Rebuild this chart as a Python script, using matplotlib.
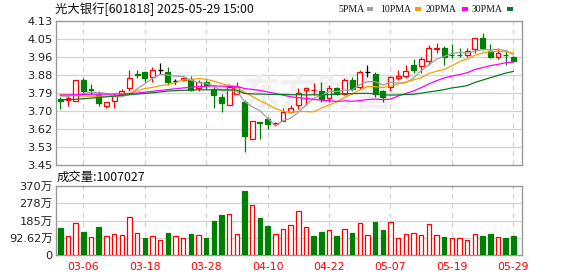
import matplotlib
matplotlib.use("Agg")
import matplotlib.pyplot as plt
from matplotlib.patches import Rectangle
import numpy as np

# ---------------- data ----------------
dates = ['03-03','03-04','03-05','03-06','03-07','03-10','03-11','03-12','03-13','03-14',
         '03-17','03-18','03-19','03-20','03-21','03-24','03-25','03-26','03-27','03-28',
         '03-31','04-01','04-02','04-03','04-07','04-08','04-09','04-10','04-11','04-14',
         '04-15','04-16','04-17','04-18','04-21','04-22','04-23','04-24','04-25','04-28',
         '04-29','04-30','05-06','05-07','05-08','05-09','05-12','05-13','05-14','05-15',
         '05-16','05-19','05-20','05-21','05-22','05-23','05-26','05-27','05-28','05-29']

opens = [3.762, 3.755, 3.751, 3.850, 3.811, 3.779, 3.730, 3.751, 3.787, 3.812,
         3.881, 3.889, 3.864, 3.899, 3.889, 3.845, 3.851, 3.855, 3.814, 3.842,
         3.809, 3.770, 3.732, 3.785, 3.746, 3.571, 3.652, 3.666, 3.644, 3.659,
         3.702, 3.732, 3.803, 3.803, 3.799, 3.765, 3.815, 3.785, 3.851, 3.817,
         3.888, 3.880, 3.799, 3.820, 3.859, 3.872, 3.922, 3.918, 3.943, 3.996,
         4.001, 3.971, 3.970, 3.969, 3.996, 4.048, 3.990, 3.962, 3.971, 3.958]
highs = [3.770, 3.774, 3.850, 3.862, 3.833, 3.798, 3.749, 3.788, 3.807, 3.899,
         3.899, 3.891, 3.913, 3.932, 3.913, 3.858, 3.866, 3.870, 3.851, 3.851,
         3.820, 3.785, 3.831, 3.844, 3.757, 3.656, 3.655, 3.678, 3.655, 3.718,
         3.732, 3.812, 3.820, 3.839, 3.844, 3.828, 3.820, 3.859, 3.867, 3.899,
         3.924, 3.891, 3.804, 3.870, 3.899, 3.922, 3.949, 3.962, 4.017, 4.028,
         4.012, 4.021, 4.001, 4.001, 4.048, 4.075, 4.021, 4.001, 3.993, 3.965]
lows = [3.713, 3.730, 3.751, 3.792, 3.785, 3.730, 3.721, 3.721, 3.785, 3.801,
        3.862, 3.844, 3.844, 3.880, 3.826, 3.833, 3.848, 3.799, 3.799, 3.811,
        3.721, 3.702, 3.732, 3.785, 3.510, 3.571, 3.571, 3.620, 3.634, 3.659,
        3.694, 3.713, 3.733, 3.781, 3.749, 3.749, 3.781, 3.781, 3.801, 3.807,
        3.867, 3.773, 3.749, 3.801, 3.851, 3.859, 3.883, 3.883, 3.922, 3.977,
        3.922, 3.954, 3.958, 3.962, 3.977, 3.993, 3.954, 3.949, 3.922, 3.938]
closes = [3.751, 3.766, 3.850, 3.801, 3.803, 3.741, 3.746, 3.774, 3.798, 3.859,
          3.873, 3.862, 3.897, 3.899, 3.842, 3.845, 3.861, 3.804, 3.840, 3.829,
          3.782, 3.741, 3.818, 3.820, 3.589, 3.656, 3.648, 3.642, 3.647, 3.699,
          3.718, 3.788, 3.815, 3.806, 3.762, 3.815, 3.785, 3.851, 3.807, 3.888,
          3.888, 3.785, 3.773, 3.867, 3.870, 3.896, 3.899, 3.949, 4.001, 4.004,
          3.962, 3.968, 3.968, 3.990, 4.048, 4.001, 3.962, 3.977, 3.968, 3.943]
prev_close = 3.760  # close before the first shown day

ma5 = [3.776, 3.774, 3.781, 3.787, 3.794, 3.792, 3.788, 3.773, 3.772, 3.784,
       3.810, 3.834, 3.858, 3.878, 3.875, 3.869, 3.869, 3.850, 3.839, 3.836,
       3.823, 3.800, 3.802, 3.798, 3.750, 3.725, 3.706, 3.671, 3.636, 3.658,
       3.671, 3.699, 3.733, 3.765, 3.778, 3.797, 3.797, 3.804, 3.804, 3.829,
       3.844, 3.844, 3.828, 3.840, 3.837, 3.838, 3.861, 3.896, 3.923, 3.950,
       3.963, 3.977, 3.981, 3.978, 3.987, 3.995, 3.994, 3.996, 3.991, 3.970]
ma10 = [3.782, 3.780, 3.778, 3.776, 3.775, 3.775, 3.776, 3.777, 3.780, 3.789,
        3.801, 3.811, 3.816, 3.825, 3.829, 3.840, 3.851, 3.854, 3.858, 3.855,
        3.846, 3.834, 3.826, 3.818, 3.793, 3.774, 3.753, 3.737, 3.717, 3.704,
        3.698, 3.703, 3.702, 3.701, 3.718, 3.734, 3.748, 3.769, 3.785, 3.804,
        3.821, 3.820, 3.816, 3.822, 3.833, 3.841, 3.852, 3.862, 3.882, 3.893,
        3.901, 3.919, 3.938, 3.951, 3.968, 3.979, 3.985, 3.988, 3.985, 3.979]
ma20 = [3.780, 3.781, 3.782, 3.783, 3.784, 3.784, 3.785, 3.785, 3.786, 3.787,
        3.790, 3.794, 3.798, 3.802, 3.806, 3.810, 3.814, 3.817, 3.820, 3.822,
        3.824, 3.822, 3.821, 3.822, 3.811, 3.807, 3.802, 3.795, 3.788, 3.780,
        3.772, 3.768, 3.764, 3.760, 3.756, 3.754, 3.750, 3.753, 3.751, 3.754,
        3.759, 3.761, 3.759, 3.761, 3.776, 3.788, 3.800, 3.815, 3.833, 3.848,
        3.861, 3.870, 3.877, 3.886, 3.901, 3.910, 3.919, 3.925, 3.933, 3.936]
ma30 = [3.757, 3.759, 3.760, 3.763, 3.766, 3.769, 3.772, 3.775, 3.779, 3.782,
        3.785, 3.788, 3.791, 3.795, 3.799, 3.801, 3.803, 3.804, 3.805, 3.805,
        3.805, 3.805, 3.805, 3.804, 3.788, 3.786, 3.785, 3.784, 3.783, 3.783,
        3.782, 3.782, 3.781, 3.782, 3.780, 3.783, 3.784, 3.787, 3.787, 3.788,
        3.788, 3.786, 3.782, 3.780, 3.781, 3.783, 3.784, 3.789, 3.795, 3.800,
        3.806, 3.814, 3.819, 3.825, 3.840, 3.851, 3.862, 3.873, 3.884, 3.892]

# volume in 万
volumes = [145, 100, 170, 123, 95, 150, 100, 111, 105, 202,
           116, 91, 100, 80, 118, 100, 89, 113, 105, 91,
           182, 214, 220, 111, 343, 268, 198, 155, 113, 138,
           159, 234, 148, 102, 123, 132, 102, 138, 118, 170,
           105, 177, 132, 175, 89, 111, 116, 105, 164, 105,
           95, 89, 89, 79, 111, 100, 111, 95, 89, 100.7027]
last_volume = 1007027

price_ticks = [3.45, 3.535, 3.62, 3.705, 3.79, 3.875, 3.96, 4.045, 4.13]
price_labels = ['3.45', '3.53', '3.62', '3.70', '3.79', '3.88', '3.96', '4.05', '4.13']
vol_ticks = [0, 92.62, 185.24, 277.86, 370.48]
vol_labels = ['0', '92.62万', '185万', '278万', '370万']
date_ticks = ['03-06', '03-18', '03-28', '04-10', '04-22', '05-07', '05-19', '05-29']

title = '光大银行[601818] 2025-05-29 15:00'
ma_names = ['5PMA', '10PMA', '20PMA', '30PMA']

# ---------------- styling ----------------
RED = '#ff0000'
GREEN = '#008000'
MA_COLORS = ['#a0a0a0', '#f5a000', '#ff00ff', '#0b7a2a']
GRID = '#d3d3d3'
SPINE = '#999999'
CJK = ['Noto Sans CJK SC', 'DejaVu Sans']
NUM = ['DejaVu Sans', 'Noto Sans CJK SC']

W, H = 578, 276
fig = plt.figure(figsize=(W / 100, H / 100), dpi=100)
fig.patch.set_facecolor('white')

def fx(px):
    return px / W

def fy(py):
    return 1 - py / H

L, R = 56, 522
ax = fig.add_axes([fx(L), fy(165), fx(R - L), 144 / H])
axv = fig.add_axes([fx(L), fy(255), fx(R - L), 69 / H])

n = len(closes)
x = np.arange(n)
o = np.array(opens); c = np.array(closes); hi = np.array(highs); lo = np.array(lows)
xlim = (-0.56, n - 1 + 1.13)

tick_pos = [dates.index(d) for d in date_ticks]

for a in (ax, axv):
    a.set_xlim(*xlim)
    for s in a.spines.values():
        s.set_color(SPINE)
        s.set_linewidth(1.0)
    a.tick_params(length=0)
    for p in tick_pos:
        a.axvline(p, color=GRID, lw=0.9, ls=(0, (4, 3.5)), zorder=0)

# main price panel
ax.set_ylim(3.45, 4.13)
ax.set_yticks(price_ticks)
ax.set_yticklabels(price_labels, fontsize=8.2, color='#222222', family=NUM)
ax.tick_params(axis='y', pad=2.5)
ax.set_xticks([])
for t in price_ticks[1:-1]:
    ax.axhline(t, color=GRID, lw=0.9, zorder=0)

# watermark
ax.text(33.5, 3.78, '东方财富', fontsize=27, color='#f0f0f0', ha='center', va='center',
        family=CJK, zorder=0.5, fontweight='bold')

bw = 0.64
for i in range(n):
    if c[i] > o[i]:
        col = RED; face = 'white'
    elif c[i] < o[i]:
        col = GREEN; face = GREEN
    else:
        col = 'black'; face = 'black'
    ax.vlines(i, lo[i], hi[i], color=col, lw=0.9, zorder=2)
    if c[i] == o[i]:
        ax.hlines(o[i], i - bw / 2, i + bw / 2, color=col, lw=1.0, zorder=3)
    else:
        ax.bar(i, abs(c[i] - o[i]), bottom=min(c[i], o[i]), width=bw,
               facecolor=face, edgecolor=col, linewidth=0.9, zorder=3)

for vals, colr in zip([ma5, ma10, ma20, ma30], MA_COLORS):
    ax.plot(x, vals, color=colr, lw=0.9, zorder=4)

# volume panel
prev = np.concatenate([[prev_close], c[:-1]])
up = c >= prev
vw = 0.58
for i in range(n):
    if up[i]:
        axv.bar(i, volumes[i], width=vw, facecolor='white', edgecolor=RED, linewidth=0.9, zorder=3)
    else:
        axv.bar(i, volumes[i], width=vw, facecolor=GREEN, edgecolor=GREEN, linewidth=0.9, zorder=3)
axv.set_ylim(vol_ticks[0], vol_ticks[-1])
axv.set_yticks(vol_ticks)
axv.set_yticklabels(vol_labels, fontsize=8.2, color='#222222', family=NUM)
axv.tick_params(axis='y', pad=2.5)
for t in vol_ticks[1:-1]:
    axv.axhline(t, color=GRID, lw=0.9, zorder=0)
axv.set_xticks(tick_pos)
axv.set_xticklabels(date_ticks, fontsize=7.8, color=RED, family=NUM)
axv.tick_params(axis='x', pad=5)

# texts
fig.text(fx(55), fy(9), title, fontsize=8.9, family=CJK, ha='left', va='center', color='#111111')
fig.text(fx(57), fy(177.5), '成交量:' + str(last_volume), fontsize=8.9, family=CJK,
         ha='left', va='center', color='#111111')

# legend row
leg_x = [338, 380, 426, 472]
sq_x = [367, 415, 462, 507]
for name, tx, sx, colr in zip(ma_names, leg_x, sq_x, MA_COLORS):
    fig.text(fx(tx), fy(9), name, fontsize=7, family='Liberation Serif',
             ha='left', va='center', color='#111111')
    fig.add_artist(Rectangle((fx(sx), fy(10.5)), 6 / W, 4 / H, transform=fig.transFigure,
                             facecolor=colr, edgecolor='none'))

fig.savefig('out.png', dpi=100, facecolor='white')
